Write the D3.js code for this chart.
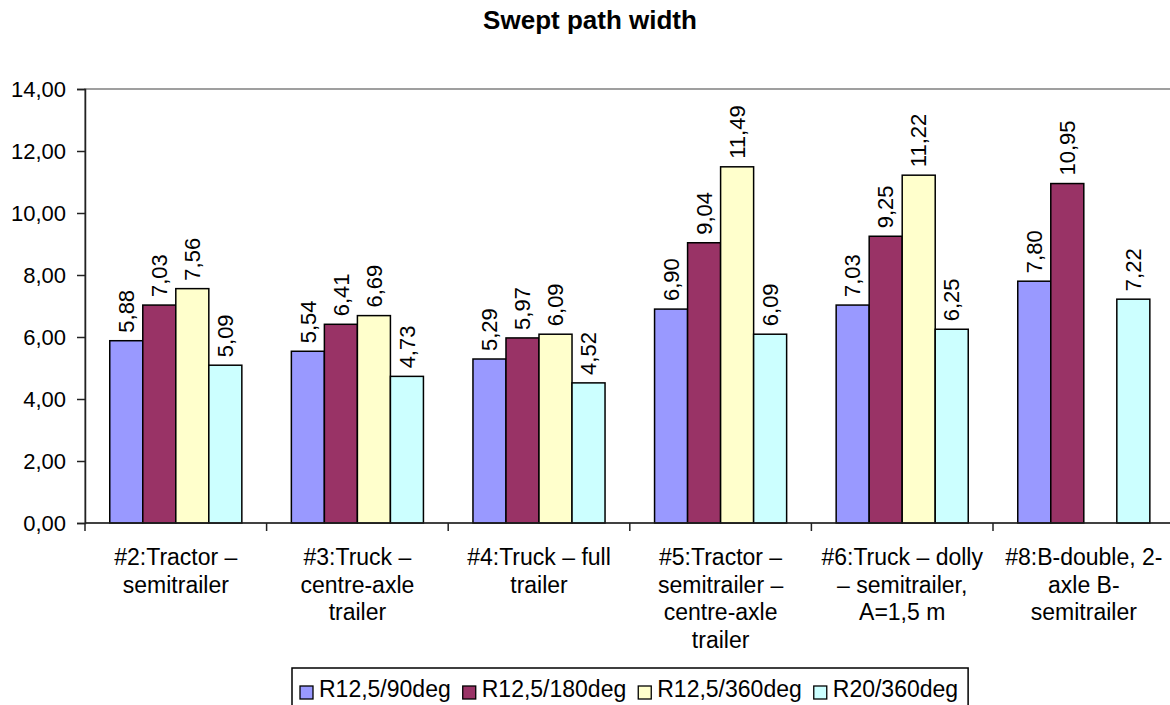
<!DOCTYPE html>
<html>
<head>
<meta charset="utf-8">
<script src="https://cdn.jsdelivr.net/npm/d3@7"></script>
<style>
  html, body { margin: 0; padding: 0; background: #fff; }
  svg { display: block; font-family: Arial, "Liberation Sans", sans-serif; }
</style>
</head>
<body>
<svg id="chart" width="1170" height="705"></svg>
<script>
// ---- data ----
const title = "Swept path width";
const categories = [
  "#2:Tractor – semitrailer",
  "#3:Truck – centre-axle trailer",
  "#4:Truck – full trailer",
  "#5:Tractor – semitrailer – centre-axle trailer",
  "#6:Truck – dolly – semitrailer, A=1,5 m",
  "#8:B-double, 2-axle B-semitrailer"
];
const categoryLines = [
  ["#2:Tractor –", "semitrailer"],
  ["#3:Truck –", "centre-axle", "trailer"],
  ["#4:Truck – full", "trailer"],
  ["#5:Tractor –", "semitrailer –", "centre-axle", "trailer"],
  ["#6:Truck – dolly", "– semitrailer,", "A=1,5 m"],
  ["#8:B-double, 2-", "axle B-", "semitrailer"]
];
const seriesNames = ["R12,5/90deg", "R12,5/180deg", "R12,5/360deg", "R20/360deg"];
const r125_90  = [5.88, 5.54, 5.29, 6.90, 7.03, 7.80];
const r125_180 = [7.03, 6.41, 5.97, 9.04, 9.25, 10.95];
const r125_360 = [7.56, 6.69, 6.09, 11.49, 11.22, null];
const r20_360  = [5.09, 4.73, 4.52, 6.09, 6.25, 7.22];
const yTicks = [0, 2, 4, 6, 8, 10, 12, 14];
const colors = ["#9999FF", "#993366", "#FFFFCC", "#CCFFFF"];

const seriesValues = [r125_90, r125_180, r125_360, r20_360];

// ---- layout ----
const svg = d3.select("#chart");
const pLeft = 85, pTop = 89, pBottom = 523, pRight = 1174.6;

const fmt = v => d3.format(".2f")(v).replace(".", ",");

const y = d3.scaleLinear().domain([0, 14]).range([pBottom, pTop]);
const x0 = d3.scaleBand().domain(categories).range([pLeft, pRight]).padding(0);
const x1 = d3.scaleBand().domain(seriesNames).range([0, x0.bandwidth()])
  .paddingInner(0).paddingOuter(0.75);

// title
svg.append("text")
  .attr("x", 590).attr("y", 29)
  .attr("text-anchor", "middle")
  .style("font-size", "26px").style("font-weight", "bold")
  .text(title);

// plot area border (gray)
svg.append("rect")
  .attr("x", pLeft).attr("y", pTop)
  .attr("width", pRight - pLeft).attr("height", pBottom - pTop)
  .attr("fill", "none").attr("stroke", "#808080").attr("stroke-width", 1.5);

// bars
const groups = svg.append("g").selectAll("g")
  .data(categories)
  .join("g")
  .attr("transform", d => `translate(${x0(d)},0)`);

const barData = (d, i) => seriesNames.map((s, k) => ({ s, k, v: seriesValues[k][i] }))
  .filter(e => e.v != null);

groups.each(function(cat, i) {
  const g = d3.select(this);
  const items = barData(cat, i);
  g.selectAll("rect")
    .data(items)
    .join("rect")
    .attr("x", e => x1(e.s))
    .attr("y", e => y(e.v))
    .attr("width", x1.bandwidth())
    .attr("height", e => y(0) - y(e.v))
    .attr("fill", e => colors[e.k])
    .attr("stroke", "#000")
    .attr("stroke-width", 1.5);
  g.selectAll("text.lbl")
    .data(items)
    .join("text")
    .attr("class", "lbl")
    .attr("transform", e => `translate(${x1(e.s) + x1.bandwidth() / 2},${y(e.v) - 8}) rotate(-90)`)
    .attr("dy", "0.35em")
    .attr("text-anchor", "start")
    .style("font-size", "22px")
    .text(e => fmt(e.v));
});

// y axis
const yAxis = d3.axisLeft(y).tickValues(yTicks).tickFormat(fmt).tickSize(8).tickPadding(11);
const yg = svg.append("g").attr("transform", `translate(${pLeft},0)`).call(yAxis);
yg.select(".domain").attr("stroke", "#222").attr("stroke-width", 1.5);
yg.selectAll(".tick line").attr("stroke", "#222").attr("stroke-width", 1.5);
yg.selectAll(".tick text").style("font-size", "22px").style("font-family", "Arial, 'Liberation Sans', sans-serif").attr("fill", "#000");

// x axis
const xg = svg.append("g").attr("transform", `translate(0,${pBottom})`);
xg.append("line").attr("x1", pLeft).attr("x2", pRight).attr("y1", 0).attr("y2", 0)
  .attr("stroke", "#222").attr("stroke-width", 1.5);
const boundaries = categories.map(c => x0(c)).concat([pRight]);
xg.selectAll("line.tk").data(boundaries).join("line").attr("class", "tk")
  .attr("x1", d => d).attr("x2", d => d).attr("y1", 0).attr("y2", 8)
  .attr("stroke", "#222").attr("stroke-width", 1.5);

const catText = xg.selectAll("text.cat").data(categories).join("text")
  .attr("class", "cat")
  .attr("text-anchor", "middle")
  .style("font-size", "23px")
  .attr("transform", d => `translate(${x0(d) + x0.bandwidth() / 2},42)`);
catText.each(function(d, i) {
  d3.select(this).selectAll("tspan").data(categoryLines[i]).join("tspan")
    .attr("x", 0).attr("y", (l, j) => j * 27.7).text(l => l);
});

// legend
const legend = svg.append("g");
const legTop = 668, legLeft = 292, legH = 38;
const box = legend.append("rect").attr("x", legLeft).attr("y", legTop)
  .attr("height", legH).attr("fill", "#fff").attr("stroke", "#000").attr("stroke-width", 1.5);
let cx = legLeft + 8;
seriesNames.forEach((s, k) => {
  legend.append("rect").attr("x", cx).attr("y", legTop + 18).attr("width", 13).attr("height", 13)
    .attr("fill", colors[k]).attr("stroke", "#000").attr("stroke-width", 1.3);
  const t = legend.append("text").attr("x", cx + 19).attr("y", legTop + 29)
    .style("font-size", "23px").text(s);
  cx += 19 + t.node().getComputedTextLength() + 12;
});
box.attr("width", cx - legLeft - 2);
</script>
</body>
</html>
